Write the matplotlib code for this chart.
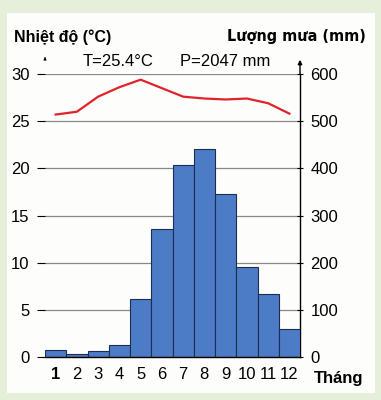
import numpy as np
from matplotlib import pyplot as plt
from matplotlib.patches import Rectangle

plt.rcParams['font.family'] = ['Liberation Sans', 'DejaVu Sans']

months = [1, 2, 3, 4, 5, 6, 7, 8, 9, 10, 11, 12]
month_labels = ['1', '2', '3', '4', '5', '6', '7', '8', '9', '10', '11', '12']
rain = [15, 7, 12, 25, 122, 272, 408, 440, 345, 191, 133, 60]
temp = [25.7, 26.0, 27.6, 28.6, 29.4, 28.5, 27.6, 27.4, 27.3, 27.4, 26.9, 25.8]
temp_ticks = [0, 5, 10, 15, 20, 25, 30]
rain_ticks = [0, 100, 200, 300, 400, 500, 600]

fig = plt.figure(figsize=(3.81, 4.0), dpi=100)
fig.patch.set_facecolor('#e6efd9')
fig.patches.append(Rectangle((7/381, 7/400), 368/381, 380/400, transform=fig.transFigure,
                             facecolor='#fdfdfb', edgecolor='none', zorder=-5))

ax = fig.add_axes([45/381, 1-357/400, 255/381, (357-74)/400])
ax.set_facecolor('none')
ax2 = ax.twinx()
ax2.set_facecolor('none')

# rainfall bars on right axis
ax2.bar(months, rain, width=1.0, color='#4d7cc6', edgecolor='#1c2d4f', linewidth=0.8, zorder=3)
ax2.set_ylim(0, 600)
ax2.set_yticks(rain_ticks)
ax2.tick_params(axis='y', labelsize=12, length=5, direction='inout', pad=5)
for t in rain_ticks[1:]:
    ax2.axhline(t, color='#888888', linewidth=0.9, zorder=1)

# temperature
ax.set_zorder(ax2.get_zorder()+1)
ax.plot(months, temp, color='#e0232b', linewidth=1.6, zorder=4)
ax.set_ylim(0, 30)
ax.set_xlim(0.5, 12.5)
ax.set_yticks(temp_ticks)
ax.tick_params(axis='y', labelsize=12, length=6, pad=5)
ax.set_xticks(months)
ax.set_xticklabels(month_labels, fontsize=12)
ax.get_xticklabels()[0].set_fontweight('bold')
ax.tick_params(axis='x', length=0, pad=7)

for a in (ax, ax2):
    a.spines['top'].set_visible(False)
    a.spines['left'].set_visible(False)
ax.spines['right'].set_visible(False)
ax2.spines['bottom'].set_visible(False)
ax2.spines['right'].set_linewidth(1.0)
ax.spines['bottom'].set_linewidth(1.0)

# arrows at top of axes
ax2.annotate('', xy=(1, 1.06), xytext=(1, 0.99), xycoords='axes fraction',
             arrowprops=dict(arrowstyle='-|>', color='black', lw=1.0, mutation_scale=6))
ax.annotate('', xy=(0, 1.06), xytext=(0, 1.045), xycoords='axes fraction',
            arrowprops=dict(arrowstyle='-|>', color='black', lw=0.6, mutation_scale=4))

fig.text(14/381, 1-37/400, 'Nhiệt độ (°C)', fontsize=11.5, fontweight='bold', va='center')
fig.text(366/381, 1-37/400, 'Lượng mưa (mm)', fontsize=11.5, fontweight='bold', va='center', ha='right',
         family=['DejaVu Sans'], stretch='condensed')
fig.text(83/381, 1-62/400, 'T=25.4°C', fontsize=12, va='center')
fig.text(180/381, 1-62/400, 'P=2047 mm', fontsize=12, va='center')
fig.text(314/381, 1-378/400, 'Tháng', fontsize=12, fontweight='bold', va='center')

fig.savefig('out.png', dpi=100, facecolor=fig.get_facecolor())
